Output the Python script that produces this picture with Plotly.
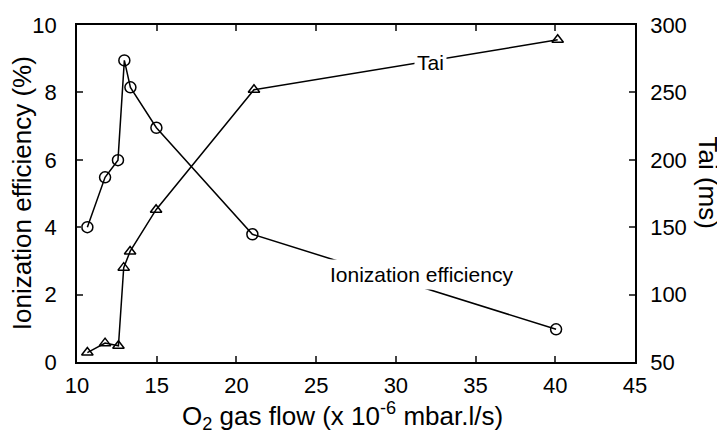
import plotly.graph_objects as go

# O2 gas flow (x 1e-6 mbar.l/s) and measured values
flow_eff = [10.65, 11.76, 12.57, 12.97, 13.35, 14.98, 21.0, 40.05]
ion_eff = [4.0, 5.48, 5.99, 8.95, 8.15, 6.95, 3.79, 0.97]

flow_tai = [10.65, 11.76, 12.6, 12.93, 13.33, 14.96, 21.1, 40.15]
tai_ms = [57, 64, 62, 120, 132, 163, 252, 289]

x_ticks = [10, 15, 20, 25, 30, 35, 40, 45]
y_ticks = [0, 2, 4, 6, 8, 10]
y2_ticks = [50, 100, 150, 200, 250, 300]

FONT = "Liberation Sans, Arial, Helvetica, sans-serif"

fig = go.Figure()

fig.add_trace(go.Scatter(
    x=flow_eff, y=ion_eff, mode="lines+markers", name="Ionization efficiency",
    line=dict(color="black", width=1.5),
    marker=dict(symbol="circle-open", size=11, color="black", line=dict(width=1.5)),
))
fig.add_trace(go.Scatter(
    x=flow_tai, y=tai_ms, mode="lines+markers", name="Tai", yaxis="y2",
    line=dict(color="black", width=1.5),
    marker=dict(symbol="triangle-up-open", size=10, color="black", line=dict(width=1.5)),
))

# inline labels with white boxes breaking the lines
fig.add_annotation(x=32.15, y=272.5, xref="x", yref="y2", text="Tai", showarrow=False,
                   bgcolor="white", borderpad=2, font=dict(size=21, color="black", family=FONT))
fig.add_annotation(x=31.58, y=2.61, xref="x", yref="y", text="Ionization efficiency",
                   showarrow=False, bgcolor="white", borderpad=3,
                   font=dict(size=21, color="black", family=FONT))

# axis titles placed as annotations (right one reads top to bottom)
title_font = dict(size=26, color="black", family=FONT)
fig.add_annotation(x=-0.099, y=0.5, xref="paper", yref="paper", text="Ionization efficiency (%)",
                   textangle=-90, showarrow=False, xanchor="center", yanchor="middle",
                   font=title_font)
fig.add_annotation(x=1.13, y=0.534, xref="paper", yref="paper", text="Tai (ms)",
                   textangle=90, showarrow=False, xanchor="center", yanchor="middle",
                   font=title_font)
fig.add_annotation(x=0.475, y=-0.16, xref="paper", yref="paper",
                   text="O<sub>2</sub> gas flow (x 10<sup>-6</sup> mbar.l/s)",
                   showarrow=False, xanchor="center", yanchor="middle", font=title_font)

# page body adds an 8px offset, so the figure is 8px smaller than the window
fig.update_layout(
    width=717, height=428,
    margin=dict(l=69, r=90, t=17, b=74),
    paper_bgcolor="white", plot_bgcolor="white",
    showlegend=False,
    font=dict(family=FONT, color="black", size=22),
    xaxis=dict(
        range=[10, 45], tickvals=x_ticks, ticks="inside", ticklen=6, tickwidth=1.5,
        showline=True, linecolor="black", linewidth=1.5, mirror="ticks",
        showgrid=False, zeroline=False, ticklabelstandoff=3, automargin=False,
    ),
    yaxis=dict(
        range=[0, 10], tickvals=y_ticks, ticks="inside", ticklen=6, tickwidth=1.5,
        showline=True, linecolor="black", linewidth=1.5, mirror=True,
        showgrid=False, zeroline=False, ticklabelstandoff=14, automargin=False,
    ),
    yaxis2=dict(
        range=[50, 300], tickvals=y2_ticks, ticks="inside", ticklen=6, tickwidth=1.5,
        overlaying="y", side="right", showline=True, linecolor="black", linewidth=1.5,
        showgrid=False, zeroline=False, ticklabelstandoff=9, automargin=False,
    ),
)

fig.write_html("out.html")
